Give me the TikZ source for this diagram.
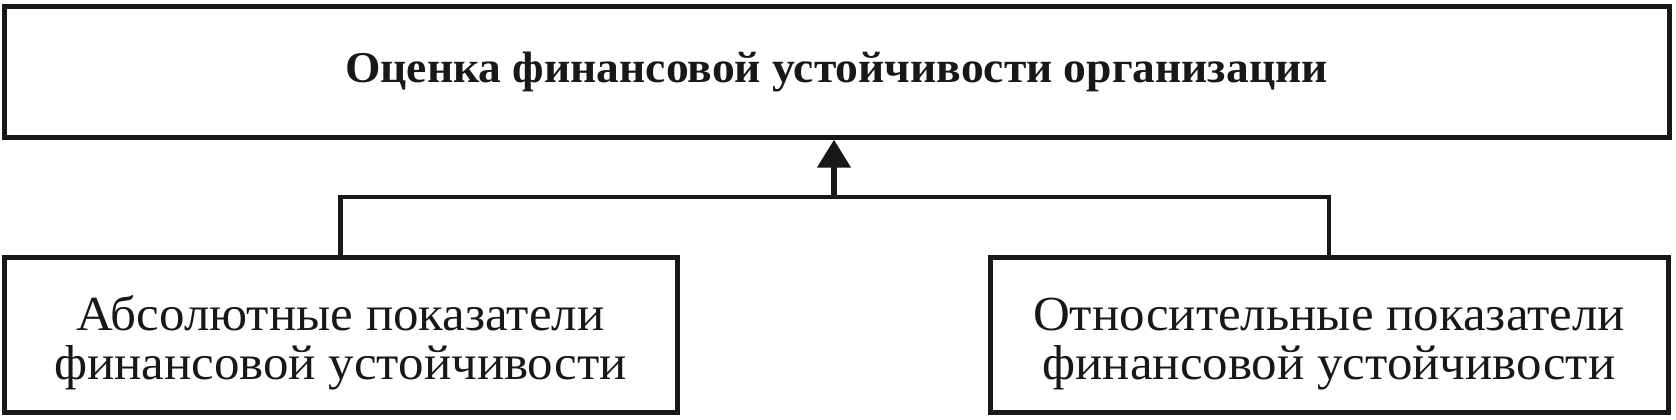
\documentclass[tikz,border=0pt]{standalone}
\usepackage{fontspec}
\setmainfont{Liberation Serif}
\newfontfamily\lowfont{Liberation Serif}[FakeStretch=1.04]
\newfontfamily\topfont{Liberation Serif}[FakeStretch=1.035]
\usetikzlibrary{arrows.meta}
\definecolor{ink}{RGB}{24,24,24}
\tikzset{
  box/.style={draw=ink, line width=2.5pt, rectangle, inner sep=0pt, text=ink},
  lowtext/.style={font=\lowfont\fontsize{24.5}{24.5}\selectfont},
  toptext/.style={font=\topfont\fontsize{22}{26}\selectfont\bfseries},
  conn/.style={draw=ink, line width=2.4pt},
  upar/.style={draw=ink, line width=3.4pt, -{Triangle[width=16pt,length=14pt]}}
}
\newcommand{\lowlines}[2]{\raisebox{-11.5pt}[0pt][0pt]{\begin{tabular}{@{}c@{}}#1\\#2\end{tabular}}}
\begin{document}
\begin{tikzpicture}[x=0.5pt,y=-0.5pt]
\useasboundingbox (0,0) rectangle (1676,419);
\node[box, toptext, minimum width=832.5pt, minimum height=65.5pt] (top) at (836.5,71.5)
  {\raisebox{1.5pt}{Оценка финансовой устойчивости организации}};
\node[box, lowtext, minimum width=336.5pt, minimum height=77.5pt] (lb) at (340.5,334.5)
  {\lowlines{Абсолютные показатели}{финансовой устойчивости}};
\node[box, lowtext, minimum width=339pt, minimum height=77.5pt] (rb) at (1329,334.5)
  {\lowlines{Относительные показатели}{финансовой устойчивости}};
\coordinate (j) at (834,197);
\draw[conn] (lb.north) |- (j) -| (rb.north);
\draw[upar] (j) -- (j |- top.south);
\end{tikzpicture}
\end{document}
